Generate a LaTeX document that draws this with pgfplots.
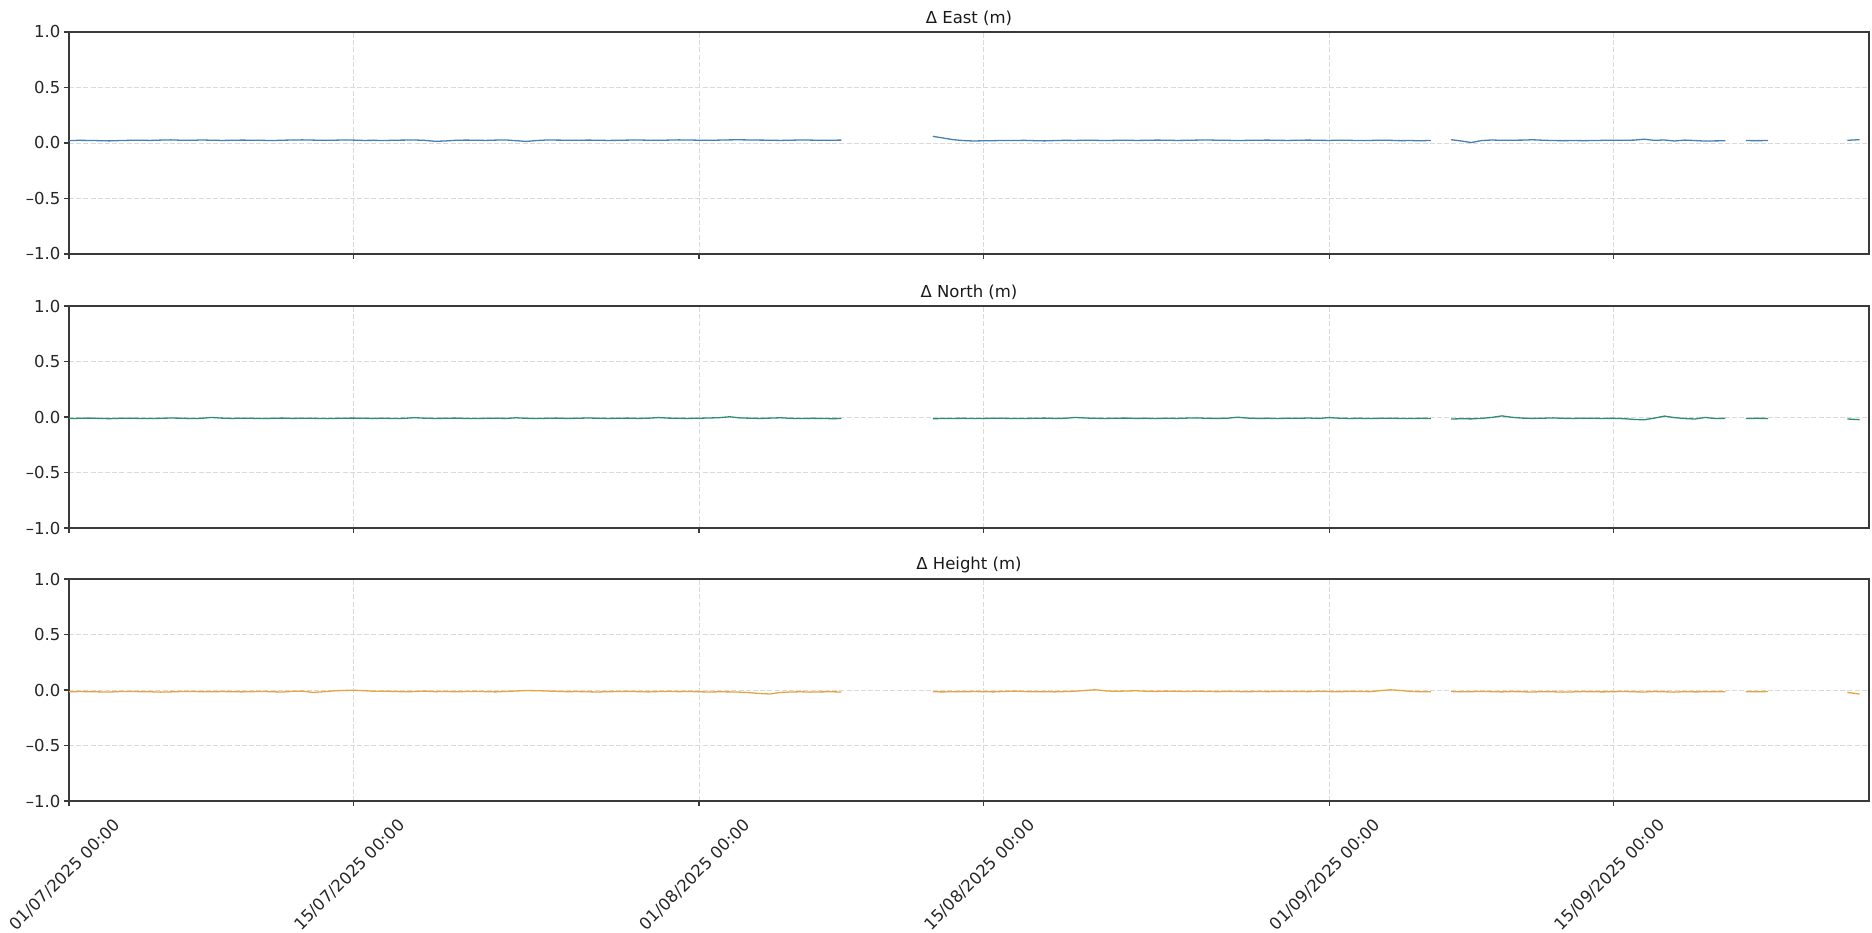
\documentclass[border=0pt]{standalone}
\usepackage{fontspec}
\setmainfont{DejaVu Sans}
\usepackage{pgfplots}
\usepackage{pgfplotstable}
\pgfplotsset{compat=1.18}

\definecolor{eastc}{HTML}{4680B4}
\definecolor{northc}{HTML}{2E8C74}
\definecolor{heightc}{HTML}{E6A540}
\definecolor{spine}{HTML}{3A3A3A}
\definecolor{gridc}{HTML}{DADADA}

% t = days since 01/07/2025 00:00; nan rows mark data gaps
\pgfplotstableread{
t     e      n       h
0.0  0.022 -0.014 -0.016
0.5  0.024 -0.012 -0.014
1.0  0.023 -0.010 -0.015
1.5  0.021 -0.013 -0.017
2.0  0.019 -0.015 -0.018
2.5  0.022 -0.012 -0.014
3.0  0.024 -0.011 -0.013
3.5  0.025 -0.013 -0.015
4.0  0.023 -0.014 -0.016
4.5  0.026 -0.012 -0.019
5.0  0.028 -0.009 -0.017
5.5  0.025 -0.011 -0.014
6.0  0.024 -0.014 -0.013
6.5  0.027 -0.012 -0.015
7.0  0.025 -0.004 -0.016
7.5  0.023 -0.010 -0.014
8.0  0.024 -0.013 -0.015
8.5  0.026 -0.011 -0.017
9.0  0.025 -0.012 -0.015
9.5  0.024 -0.014 -0.013
10.0 0.022 -0.012 -0.016
10.5 0.025 -0.010 -0.018
11.0 0.027 -0.013 -0.012
11.5 0.028 -0.011 -0.010
12.0 0.026 -0.012 -0.022
12.5 0.024 -0.014 -0.016
13.0 0.025 -0.013 -0.008
13.5 0.027 -0.011 -0.004
14.0 0.026 -0.010 -0.002
14.5 0.023 -0.012 -0.006
15.0 0.024 -0.013 -0.012
15.5 0.022 -0.011 -0.011
16.0 0.025 -0.014 -0.013
16.5 0.026 -0.012 -0.016
17.0 0.027 -0.006 -0.014
17.5 0.024 -0.011 -0.010
18.0 0.015 -0.013 -0.015
18.5 0.018 -0.012 -0.013
19.0 0.024 -0.010 -0.016
19.5 0.026 -0.013 -0.014
20.0 0.025 -0.014 -0.012
20.5 0.023 -0.012 -0.015
21.0 0.026 -0.011 -0.017
21.5 0.027 -0.013 -0.013
22.0 0.021 -0.007 -0.009
22.5 0.014 -0.012 -0.005
23.0 0.022 -0.014 -0.006
23.5 0.027 -0.012 -0.009
24.0 0.026 -0.010 -0.012
24.5 0.025 -0.013 -0.015
25.0 0.024 -0.012 -0.014
25.5 0.026 -0.009 -0.016
26.0 0.025 -0.011 -0.018
26.5 0.023 -0.013 -0.015
27.0 0.024 -0.012 -0.014
27.5 0.026 -0.010 -0.012
28.0 0.027 -0.013 -0.015
28.5 0.025 -0.011 -0.017
29.0 0.024 -0.005 -0.014
29.5 0.026 -0.010 -0.012
30.0 0.028 -0.012 -0.015
30.5 0.027 -0.013 -0.013
31.0 0.025 -0.011 -0.016
31.5 0.024 -0.009 -0.018
32.0 0.026 -0.006 -0.016
32.5 0.028  0.002 -0.017
33.0 0.029 -0.008 -0.019
33.5 0.027 -0.011 -0.024
34.0 0.026 -0.013 -0.032
34.5 0.025 -0.010 -0.036
35.0 0.023 -0.007 -0.022
35.5 0.025 -0.012 -0.018
36.0 0.027 -0.014 -0.016
36.5 0.026 -0.012 -0.019
37.0 0.024 -0.013 -0.017
37.5 0.025 -0.015 -0.016
38.0 0.026 -0.014 -0.018
nan  nan   nan    nan
42.5 0.060 -0.015 -0.016
43.0 0.045 -0.014 -0.017
43.5 0.030 -0.013 -0.015
44.0 0.022 -0.012 -0.016
44.5 0.018 -0.014 -0.014
45.0 0.020 -0.013 -0.015
45.5 0.021 -0.011 -0.017
46.0 0.023 -0.012 -0.013
46.5 0.022 -0.014 -0.010
47.0 0.024 -0.013 -0.014
47.5 0.021 -0.012 -0.016
48.0 0.019 -0.010 -0.015
48.5 0.022 -0.013 -0.017
49.0 0.024 -0.012 -0.014
49.5 0.023 -0.004 -0.011
50.0 0.025 -0.009 -0.004
50.5 0.024 -0.012  0.002
51.0 0.022 -0.013 -0.008
51.5 0.024 -0.011 -0.012
52.0 0.025 -0.010 -0.009
52.5 0.023 -0.013 -0.007
53.0 0.024 -0.012 -0.011
53.5 0.026 -0.014 -0.013
54.0 0.025 -0.011 -0.010
54.5 0.023 -0.013 -0.012
55.0 0.024 -0.010 -0.014
55.5 0.026 -0.008 -0.011
56.0 0.027 -0.012 -0.013
56.5 0.025 -0.013 -0.015
57.0 0.024 -0.011 -0.012
57.5 0.022 -0.002 -0.014
58.0 0.024 -0.010 -0.016
58.5 0.025 -0.013 -0.013
59.0 0.026 -0.012 -0.015
59.5 0.024 -0.014 -0.012
60.0 0.023 -0.011 -0.014
60.5 0.025 -0.012 -0.013
61.0 0.026 -0.009 -0.015
61.5 0.024 -0.013 -0.012
62.0 0.023 -0.005 -0.014
62.5 0.025 -0.011 -0.016
63.0 0.024 -0.013 -0.012
63.5 0.022 -0.012 -0.013
64.0 0.023 -0.014 -0.015
64.5 0.025 -0.012 -0.006
65.0 0.024 -0.011  0.002
65.5 0.021 -0.013 -0.004
66.0 0.022 -0.014 -0.013
66.5 0.020 -0.012 -0.016
67.0 0.023 -0.013 -0.015
nan  nan   nan    nan
68.0 0.030 -0.018 -0.014
68.5 0.018 -0.016 -0.016
69.0 0.004 -0.017 -0.015
69.5 0.022 -0.012 -0.013
70.0 0.027 -0.004 -0.015
70.5 0.024  0.010 -0.017
71.0 0.025 -0.003 -0.014
71.5 0.026 -0.010 -0.016
72.0 0.029 -0.013 -0.018
72.5 0.025 -0.011 -0.015
73.0 0.022 -0.008 -0.016
73.5 0.021 -0.012 -0.019
74.0 0.022 -0.013 -0.017
74.5 0.021 -0.011 -0.014
75.0 0.022 -0.012 -0.016
75.5 0.024 -0.013 -0.017
76.0 0.025 -0.012 -0.015
76.5 0.024 -0.015 -0.013
77.0 0.026 -0.022 -0.016
77.5 0.034 -0.025 -0.018
78.0 0.024 -0.010 -0.014
78.5 0.027  0.008 -0.016
79.0 0.018 -0.006 -0.019
79.5 0.026 -0.014 -0.015
80.0 0.022 -0.018 -0.017
80.5 0.017 -0.004 -0.016
81.0 0.019 -0.014 -0.015
81.5 0.020 -0.012 -0.016
nan  nan   nan    nan
82.5 0.022 -0.014 -0.015
83.0 0.021 -0.012 -0.016
83.6 0.022 -0.013 -0.014
nan  nan   nan    nan
87.5 0.024 -0.018 -0.022
88.1 0.030 -0.024 -0.036
}\enutable

\pgfplotsset{
  enupanel/.style={
    scale only axis,
    width=1800pt, height=222pt,
    anchor=south west,
    xmin=0, xmax=88.56,
    ymin=-1, ymax=1,
    xtick={0,14,31,45,62,76},
    ytick={-1,-0.5,0,0.5,1},
    yticklabels={–1.0,–0.5,0.0,0.5,1.0},
    unbounded coords=jump,
    tick pos=left,
    tick align=outside,
    major tick length=5pt,
    axis line style={spine, line width=1.2pt},
    every tick/.style={spine, line width=1.2pt},
    grid=major,
    major grid style={gridc, line width=0.8pt, dash pattern=on 5pt off 2.2pt},
    tick label style={font=\fontsize{16.5}{19}\selectfont, text=black!85},
    title style={font=\fontsize{16.5}{19}\selectfont, text=black!90, yshift=-3pt},
    clip=true,
  },
  enuline/.style={line width=1.3pt, line join=round, no markers},
}

\begin{document}
\begin{tikzpicture}
\useasboundingbox (0,0) rectangle (1872pt,932pt);

% East component
\begin{axis}[enupanel, at={(69pt,678pt)}, title={Δ East (m)}, xticklabels={}]
  \addplot[enuline, eastc] table[x=t, y=e] {\enutable};
\end{axis}

% North component
\begin{axis}[enupanel, at={(69pt,404pt)}, title={Δ North (m)}, xticklabels={}]
  \addplot[enuline, northc] table[x=t, y=n] {\enutable};
\end{axis}

% Height component; date labels centred under their ticks, turned 45 degrees
\begin{axis}[enupanel, at={(69pt,131pt)}, title={Δ Height (m)},
  xticklabels={01/07/2025 00:00,15/07/2025 00:00,01/08/2025 00:00,15/08/2025 00:00,01/09/2025 00:00,15/09/2025 00:00},
  xticklabel style={anchor=center, xshift=-4pt, yshift=-69pt, rotate=45}]
  \addplot[enuline, heightc] table[x=t, y=h] {\enutable};
\end{axis}
\end{tikzpicture}
\end{document}
